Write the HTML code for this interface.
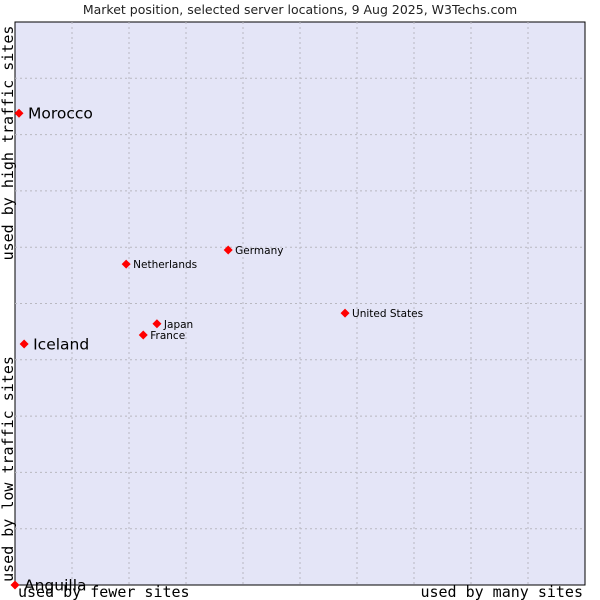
<!DOCTYPE html>
<html><head><meta charset="utf-8"><style>
html,body{margin:0;padding:0;background:#fff;}
svg{display:block;}
</style></head><body>
<svg id="chart" width="600" height="600" xmlns="http://www.w3.org/2000/svg">
<text x="300" y="14" text-anchor="middle" font-family="DejaVu Sans, sans-serif" font-size="12.5" fill="#222">Market position, selected server locations, 9 Aug 2025, W3Techs.com</text>
<rect x="15" y="22" width="570" height="563" fill="#e4e5f7" stroke="#000" stroke-width="1"/>
<g id="grid"></g>
<text x="0" y="0" transform="translate(13,143) rotate(-90)" text-anchor="middle" font-family="DejaVu Sans Mono, Liberation Mono, monospace" font-size="15" fill="#000">used by high traffic sites</text>
<text x="0" y="0" transform="translate(13,469) rotate(-90)" text-anchor="middle" font-family="DejaVu Sans Mono, Liberation Mono, monospace" font-size="15" fill="#000">used by low traffic sites</text>
<text x="18" y="597" font-family="DejaVu Sans Mono, Liberation Mono, monospace" font-size="15" fill="#000">used by fewer sites</text>
<text x="583" y="597" text-anchor="end" font-family="DejaVu Sans Mono, Liberation Mono, monospace" font-size="15" fill="#000">used by many sites</text>
<g id="points"></g>
</svg>
<script>
const countries = ["Morocco","Iceland","Anguilla","Netherlands","Germany","United States","Japan","France"];
const usage = [0.7,1.6,0,19.5,37.4,57.9,24.9,22.5];
const traffic = [83.8,42.8,0,57.0,59.5,48.3,46.4,44.4];
const bigLabel = [true,true,true,false,false,false,false,false];
const NS="http://www.w3.org/2000/svg";
const X0=15,X1=585,Y0=585,Y1=22;
function sx(v){return X0+(X1-X0)*v/100;}
function sy(v){return Y0-(Y0-Y1)*v/100;}
const grid=document.getElementById('grid');
for(let i=1;i<10;i++){
  const l=document.createElementNS(NS,'line');
  l.setAttribute('x1',sx(i*10));l.setAttribute('x2',sx(i*10));l.setAttribute('y1',Y1);l.setAttribute('y2',Y0);
  l.setAttribute('stroke','#b8b8c0');l.setAttribute('stroke-dasharray','2,3');
  
  
  grid.appendChild(l);
  const h=document.createElementNS(NS,'line');
  h.setAttribute('y1',sy(i*10));h.setAttribute('y2',sy(i*10));h.setAttribute('x1',X0);h.setAttribute('x2',X1);
  h.setAttribute('stroke','#b8b8c0');h.setAttribute('stroke-dasharray','2,3');
  
  
  grid.appendChild(h);
}
const pts=document.getElementById('points');
countries.forEach((c,i)=>{
  const x=sx(usage[i]),y=sy(traffic[i]);
  const d=document.createElementNS(NS,'polygon');
  d.setAttribute('points',`${x},${y-4.5} ${x+4.5},${y} ${x},${y+4.5} ${x-4.5},${y}`);
  d.setAttribute('fill','#f00');
  
  
  pts.appendChild(d);
  const t=document.createElementNS(NS,'text');
  const big=bigLabel[i];
  t.setAttribute('x',x+(big?9:7));
  t.setAttribute('y',y+(big?5.5:4));
  t.setAttribute('font-family','DejaVu Sans, sans-serif');
  t.setAttribute('font-size',big?15.5:10.5);
  t.setAttribute('fill','#000');
  t.textContent=c;
  
  
  pts.appendChild(t);
});
</script>
</body></html>
